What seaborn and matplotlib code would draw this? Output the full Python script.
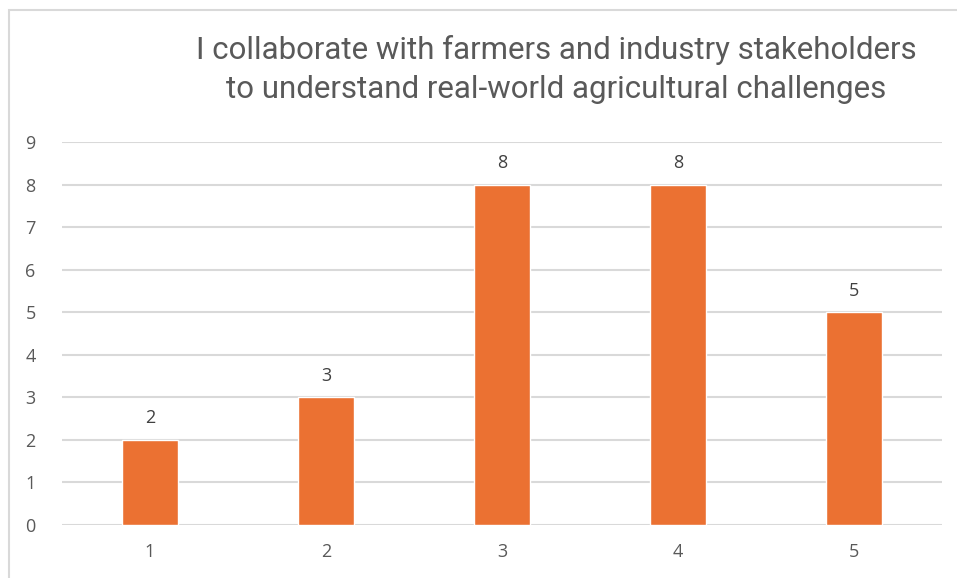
import matplotlib
matplotlib.use("Agg")
import matplotlib.pyplot as plt
import seaborn as sns
import pandas as pd
from matplotlib.patches import Rectangle

categories = ["1", "2", "3", "4", "5"]
values = [2, 3, 8, 8, 5]
title_lines = ["I collaborate with farmers and industry stakeholders",
               "to understand real-world agricultural challenges"]

sns.set_theme(style="white")
plt.rcParams['font.family'] = ['Open Sans', 'DejaVu Sans']

W, H = 957, 578
fig = plt.figure(figsize=(W / 100, H / 100), dpi=100)
ax = fig.add_axes([62 / W, (H - 525) / H, (942 - 62) / W, (525 - 142) / H])

df = pd.DataFrame({"cat": categories, "val": values})
sns.barplot(data=df, x="cat", y="val", color="#EB7132", width=0.32,
            saturation=1, ax=ax, zorder=3)

ax.set_ylim(0, 9)
ax.set_yticks(range(0, 10))
ax.grid(axis="y", color="#D9D9D9", linewidth=1.5, zorder=0)
ax.grid(axis="x", visible=False)
for s in ax.spines.values():
    s.set_visible(False)
ax.tick_params(axis="both", length=0, labelsize=13, colors="#595959")
ax.tick_params(axis="y", pad=19)
ax.tick_params(axis="x", pad=13)
ax.set_xlabel("")
ax.set_ylabel("")

for i, v in enumerate(values):
    ax.annotate(str(v), (i, v), xytext=(0, 9), textcoords="offset points",
                ha="center", va="bottom", fontsize=13, color="#404040")

for k, (line, yy) in enumerate(zip(title_lines, [50, 89])):
    fig.text(556 / W, 1 - yy / H, line, ha="center", va="center",
             fontsize=22.5, color="#595959", family=["Roboto", "DejaVu Sans"],
             fontweight="normal")

fig.patches.append(Rectangle((9 / W, -0.1), 1.2, 1 - 10 / H + 0.1,
                             transform=fig.transFigure, fill=False,
                             edgecolor="#D9D9D9", linewidth=1.5))

fig.savefig("out.png", dpi=100)
